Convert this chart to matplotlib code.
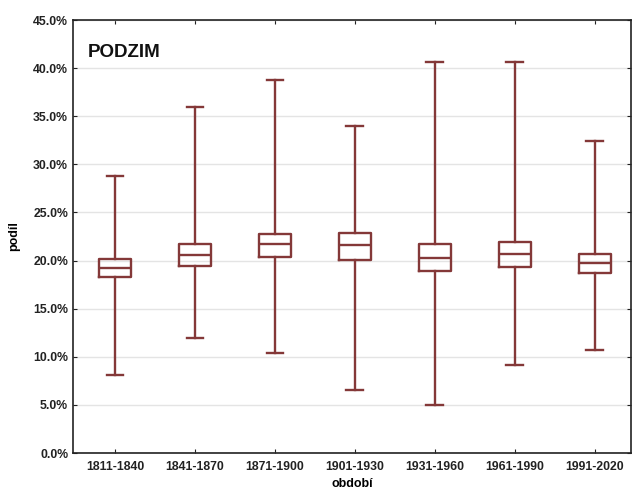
import matplotlib
matplotlib.use("Agg")
import matplotlib.pyplot as plt
from matplotlib.ticker import FuncFormatter

plt.rcParams["font.family"] = ["Liberation Sans", "DejaVu Sans"]

periods = ["1811-1840", "1841-1870", "1871-1900", "1901-1930",
           "1931-1960", "1961-1990", "1991-2020"]
whislo = [8.1, 12.0, 10.4, 6.5, 5.0, 9.1, 10.7]
q1 = [18.3, 19.4, 20.4, 20.1, 18.9, 19.3, 18.7]
med = [19.2, 20.6, 21.7, 21.6, 20.3, 20.7, 19.7]
q3 = [20.2, 21.7, 22.8, 22.9, 21.7, 21.9, 20.7]
whishi = [28.8, 36.0, 38.8, 34.0, 40.6, 40.6, 32.4]

color = "#843838"

stats = []
for i, label in enumerate(periods):
    stats.append({
        "label": label,
        "whislo": whislo[i],
        "q1": q1[i],
        "med": med[i],
        "q3": q3[i],
        "whishi": whishi[i],
        "fliers": [],
    })

fig = plt.figure(figsize=(6.32, 4.93), dpi=100)
ax = fig.add_axes([0.1155, 0.0811, 0.8825, 0.8783])

line = dict(color=color, linewidth=1.7)
ax.bxp(
    stats,
    positions=range(len(periods)),
    widths=0.4,
    capwidths=0.21,
    showfliers=False,
    boxprops=line,
    medianprops=line,
    whiskerprops=line,
    capprops=line,
)

ax.set_xlim(-0.525, 6.45)
ax.set_ylim(0, 45)
ax.set_yticks(range(0, 46, 5))
ax.yaxis.set_major_formatter(FuncFormatter(lambda v, p: f"{v:.1f}%"))
ax.set_xticks(range(len(periods)))
ax.set_xticklabels(periods)

ax.grid(axis="y", color="#e4e4e4", linewidth=1.0)
ax.set_axisbelow(True)
ax.tick_params(direction="in", top=True, right=True, length=3,
               labelsize=8.8, colors="#222222")
ax.tick_params(axis="x", pad=6)
for lab in ax.get_xticklabels() + ax.get_yticklabels():
    lab.set_fontweight("bold")
    lab.set_color("#222222")
for s in ax.spines.values():
    s.set_color("#222222")
    s.set_linewidth(1.2)

ax.set_xlabel("období", fontsize=9, fontweight="bold", labelpad=3)
ax.set_ylabel("podíl", fontsize=9, fontweight="bold", labelpad=9)
ax.text(0.027, 0.945, "PODZIM", transform=ax.transAxes, fontsize=13.5,
        fontweight="bold", va="top", ha="left", color="#111111")

fig.savefig("out.png", dpi=100)
plt.close(fig)
